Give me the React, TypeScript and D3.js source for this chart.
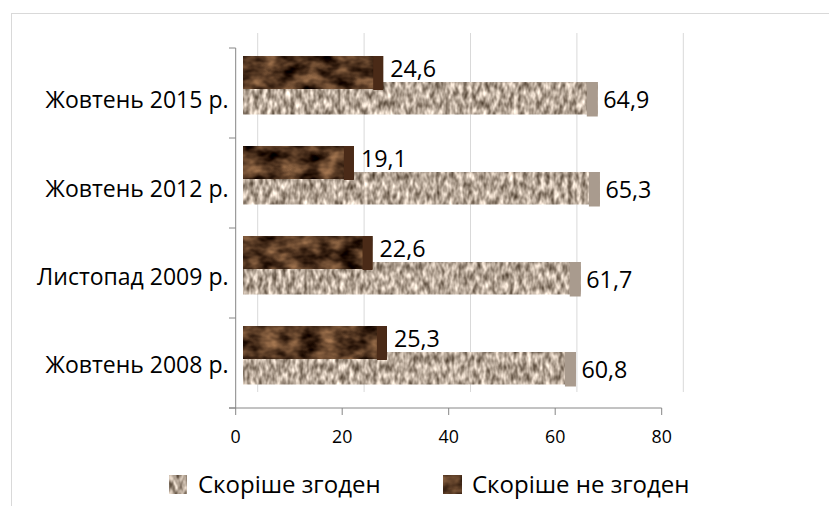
import React from "react";
import * as d3 from "d3";

const categories = ["Жовтень 2015 р.", "Жовтень 2012 р.", "Листопад 2009 р.", "Жовтень 2008 р."];
const agree = [64.9, 65.3, 61.7, 60.8];
const disagree = [24.6, 19.1, 22.6, 25.3];
const tickValues = [0, 20, 40, 60, 80];
const seriesNames = ["Скоріше згоден", "Скоріше не згоден"];

const W = 829;
const H = 506;
const FONT = "'Open Sans', 'Noto Sans', sans-serif";
const fmt = (v: number) => v.toFixed(1).replace(".", ",");

export default function App() {
  const xAxis = d3.scaleLinear().domain([0, 80]).range([235.7, 661.7]);
  const xGrid = d3.scaleLinear().domain([0, 80]).range([257.7, 683.3]);
  const xBar = d3.scaleLinear().domain([0, 80]).range([252.2, 678.2]);
  const barStart = 243;
  const y = d3.scaleBand<string>().domain(categories).range([48, 408]).paddingInner(0).paddingOuter(0);
  const yLabel = d3.scalePoint<string>().domain(categories).range([108.3, 373.3]);
  const axisColor = "#868686";
  const gridColor = "#d9d9d9";

  return (
    <svg width={W} height={H} style={{ position: "absolute", left: 0, top: 0, background: "#fff" }} fontFamily={FONT}>
      <defs>
        <filter id="texLight" x="0" y="0" width="1" height="1" colorInterpolationFilters="sRGB">
          <feTurbulence type="fractalNoise" baseFrequency="0.22 0.11" numOctaves={2} seed={11} result="n" />
          <feColorMatrix in="n" type="matrix" values="1.05 0 0 0 0.19  1.05 0 0 0 0.13  1.05 0 0 0 0.07  0 0 0 0 1" result="c" />
          <feComposite in="c" in2="SourceAlpha" operator="in" />
        </filter>
        <filter id="texDark" x="0" y="0" width="1" height="1" colorInterpolationFilters="sRGB">
          <feTurbulence type="fractalNoise" baseFrequency="0.05 0.08" numOctaves={3} seed={3} result="n" />
          <feColorMatrix in="n" type="matrix" values="0.95 0 0 0 -0.16  0.75 0 0 0 -0.17  0.55 0 0 0 -0.15  0 0 0 0 1" result="c" />
          <feComposite in="c" in2="SourceAlpha" operator="in" />
        </filter>
      </defs>
      <rect x={0} y={0} width={W} height={H} fill="#fff" />
      <rect x={11.5} y={13.5} width={W + 20} height={H + 20} fill="none" stroke={gridColor} />

      {/* gridlines */}
      {tickValues.map((t) => (
        <line key={"g" + t} x1={xGrid(t)} x2={xGrid(t)} y1={33} y2={392} stroke={gridColor} strokeWidth={1} />
      ))}

      {/* bars */}
      {categories.map((c, i) => {
        const b = y(c) as number;
        const xa = xBar(agree[i]);
        const xd = xBar(disagree[i]);
        return (
          <g key={c}>
            <rect x={barStart} y={b + 34} width={xa - barStart} height={32.5} fill="#b0a396" filter="url(#texLight)" />
            <rect x={xa - 11} y={b + 34} width={11} height={34.5} fill="#a99b8e" />
            <rect x={barStart} y={b + 8} width={xd - barStart} height={33} fill="#5a3a25" filter="url(#texDark)" />
            <rect x={xd - 10} y={b + 8} width={10} height={34} fill="#4a2a17" />
            <text x={xd + 7} y={b + 29} fontSize={23.3} fill="#000">{fmt(disagree[i])}</text>
            <text x={xa + 5.5} y={b + 60} fontSize={23.3} fill="#000">{fmt(agree[i])}</text>
          </g>
        );
      })}

      {/* category axis */}
      <line x1={235.7} x2={235.7} y1={48} y2={408} stroke={axisColor} />
      {[...categories.map((c) => y(c) as number), 408].map((v, i) => (
        <line key={"ct" + i} x1={229} x2={235.7} y1={v} y2={v} stroke={axisColor} />
      ))}
      {categories.map((c) => (
        <text key={"cl" + c} x={228.5} y={yLabel(c)} textAnchor="end" fontSize={23} fill="#000">{c}</text>
      ))}

      {/* value axis */}
      <line x1={229} x2={661.7} y1={408} y2={408} stroke={axisColor} />
      {tickValues.map((t) => (
        <g key={"t" + t}>
          <line x1={xAxis(t)} x2={xAxis(t)} y1={408} y2={415} stroke={axisColor} />
          <text x={xAxis(t)} y={443} textAnchor="middle" fontSize={17.8} fill="#000">{t}</text>
        </g>
      ))}

      {/* legend */}
      <rect x={169} y={475} width={18} height={19} fill="#b0a396" filter="url(#texLight)" />
      <text x={198} y={493} fontSize={24} fill="#000">{seriesNames[0]}</text>
      <rect x={443} y={475} width={19} height={19} fill="#5a3a25" filter="url(#texDark)" />
      <text x={472} y={493} fontSize={24} fill="#000">{seriesNames[1]}</text>
    </svg>
  );
}
